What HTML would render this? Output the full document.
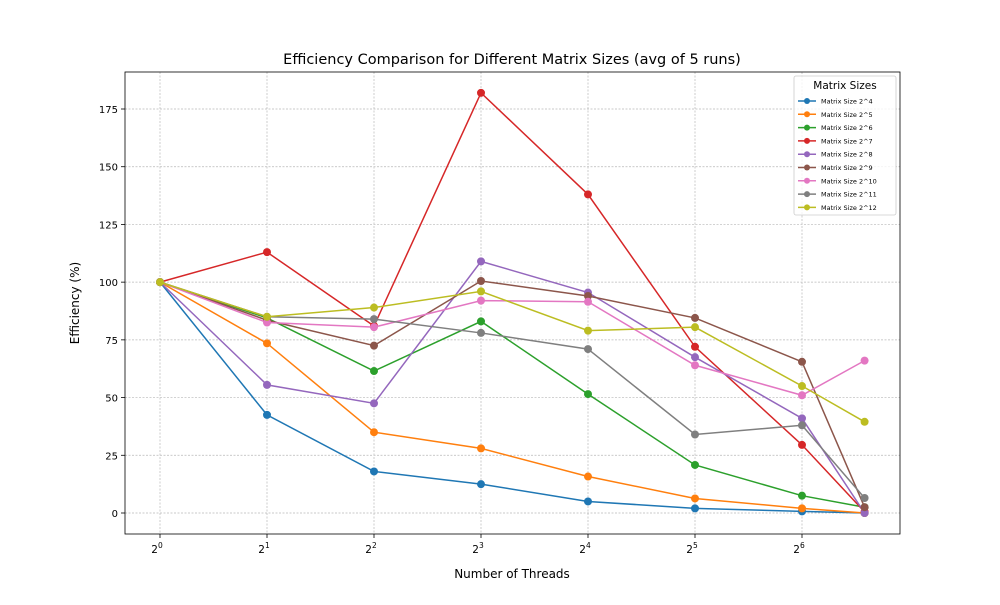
<!DOCTYPE html>
<html><head><meta charset="utf-8"><style>
body{margin:0;background:#fff;font-family:"Liberation Sans","DejaVu Sans",sans-serif;}
svg text{font-family:"DejaVu Sans","Liberation Sans",sans-serif;}
</style></head><body>
<svg id="c" width="1000" height="600" xmlns="http://www.w3.org/2000/svg"></svg>
<script>
const threads=[1,2,4,8,16,32,64,96];
const seriesNames=["Matrix Size 2^4","Matrix Size 2^5","Matrix Size 2^6","Matrix Size 2^7","Matrix Size 2^8","Matrix Size 2^9","Matrix Size 2^10","Matrix Size 2^11","Matrix Size 2^12"];
const s4=[100,42.5,18,12.5,5,2,0.7,0];
const s5=[100,73.5,35,28,15.8,6.3,2,0];
const s6=[100,84.5,61.5,83,51.5,20.8,7.5,2.5];
const s7=[100,113,81,182,138,72,29.5,0.5];
const s8=[100,55.5,47.5,109,95.5,67.5,41,0];
const s9=[100,83.5,72.5,100.5,94,84.5,65.5,2.5];
const s10=[100,82.5,80.5,92,91.5,64,51,66];
const s11=[100,85,84,78,71,34,38,6.5];
const s12=[100,85,89,96,79,80.5,55,39.5];
const yTicks=[0,25,50,75,100,125,150,175];
const xTickExp=[0,1,2,3,4,5,6];
const colors=["#1f77b4","#ff7f0e","#2ca02c","#d62728","#9467bd","#8c564b","#e377c2","#7f7f7f","#bcbd22"];
const series=[s4,s5,s6,s7,s8,s9,s10,s11,s12];
const NS="http://www.w3.org/2000/svg",svg=document.getElementById('c');
const L=125,R=900,T=72,B=534;
const xs=t=>160+Math.log2(t)*107;
const ys=v=>513-v*(404/175);
function el(tag,at,parent){const e=document.createElementNS(NS,tag);for(const k in at)e.setAttribute(k,at[k]);(parent||svg).appendChild(e);return e;}
function txt(s,at,parent){const e=el('text',at,parent);e.textContent=s;return e;}
yTicks.forEach(v=>{const g=el('line',{x1:L,x2:R,y1:ys(v),y2:ys(v),stroke:'#b8b8b8','stroke-width':0.7,'stroke-dasharray':'2,1.5'});


el('line',{x1:L-4,x2:L,y1:ys(v),y2:ys(v),stroke:'#000','stroke-width':0.8});
const t=txt(String(v),{x:L-7,y:ys(v)+4,'text-anchor':'end','font-size':10});

});
xTickExp.forEach(e=>{const x=xs(Math.pow(2,e));
const g=el('line',{x1:x,x2:x,y1:T,y2:B,stroke:'#b8b8b8','stroke-width':0.7,'stroke-dasharray':'2,1.5'});


el('line',{x1:x,x2:x,y1:B,y2:B+4,stroke:'#000','stroke-width':0.8});
const t=el('text',{x:x-3,y:B+19,'text-anchor':'middle','font-size':10.5});


t.textContent='2';const sp=document.createElementNS(NS,'tspan');sp.setAttribute('dy',-5);sp.setAttribute('font-size',7.5);sp.textContent=e;t.appendChild(sp);});
series.forEach((d,i)=>{const g=el('g',{});


el('polyline',{points:d.map((v,j)=>xs(threads[j])+','+ys(v)).join(' '),fill:'none',stroke:colors[i],'stroke-width':1.5},g);
d.forEach((v,j)=>{const c=el('circle',{cx:xs(threads[j]),cy:ys(v),r:4,fill:colors[i]},g);

});});
const frame=el('rect',{x:L,y:T,width:R-L,height:B-T,fill:'none',stroke:'#000','stroke-width':0.8});


const title=txt('Efficiency Comparison for Different Matrix Sizes (avg of 5 runs)',{x:512,y:64,'text-anchor':'middle','font-size':14.5});


const xl=txt('Number of Threads',{x:512,y:578,'text-anchor':'middle','font-size':12});


const yl=txt('Efficiency (%)',{x:79,y:303,'text-anchor':'middle','font-size':12,transform:'rotate(-90 79 303)'});


const lg=el('g',{});


el('rect',{x:794,y:76,width:102,height:139,rx:2,fill:'#fff','fill-opacity':0.8,stroke:'#ccc','stroke-width':0.8},lg);
const lt=txt('Matrix Sizes',{x:845,y:89,'text-anchor':'middle','font-size':10.5},lg);


seriesNames.forEach((n,i)=>{const y=101+i*13.3;const e=el('g',{},lg);


el('line',{x1:798,x2:816,y1:y,y2:y,stroke:colors[i],'stroke-width':1.5},e);
el('circle',{cx:807,cy:y,r:3,fill:colors[i]},e);
txt(n,{x:821,y:y+2.5,'font-size':6.5},e);});
</script>
</body></html>
